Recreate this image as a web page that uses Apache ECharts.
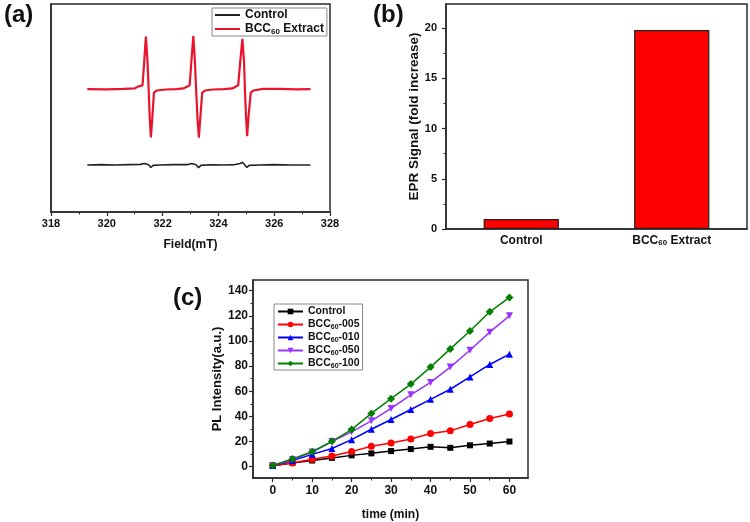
<!DOCTYPE html>
<html>
<head>
<meta charset="utf-8">
<script src="https://cdn.jsdelivr.net/npm/echarts@6/dist/echarts.min.js"></script>
<style>html,body{margin:0;padding:0;background:#fff}#c{width:750px;height:522px}</style>
</head>
<body>
<div id="c"></div>
<script>
// ---- Panel (a): EPR spectra [field (mT), signal (a.u.)] ----
const eprBcc = [
  [319.3,59.1],[320.0,59.0],[320.6,59.2],[321.0,59.4],[321.11,60.3],[321.28,60.9],[321.33,70],[321.40,84.3],[321.46,72],[321.50,59],[321.54,45],[321.58,35.9],[321.63,45],[321.69,57.4],[321.79,58.4],[322.1,58.9],
  [322.5,59.1],[322.75,59.4],[322.80,60.2],[322.97,60.9],[323.03,72],[323.10,84.6],[323.16,72],[323.20,59],[323.25,45],[323.30,35.7],[323.35,45],[323.42,57.4],[323.52,58.4],[323.8,58.9],
  [324.2,59.1],[324.5,59.4],[324.54,60.2],[324.71,60.9],[324.78,72],[324.86,83.2],[324.92,72],[324.95,59],[324.99,46],[325.03,36.5],[325.08,46],[325.16,57.4],[325.25,58.4],[325.6,59.2],[326.2,59.2],[326.8,59.0],[327.3,59.1]
];
const eprControl = [
  [319.3,22.6],[319.8,22.8],[320.3,22.6],[320.8,22.8],[321.2,22.9],[321.35,23.3],[321.42,24.0],[321.50,22.7],[321.58,21.4],[321.66,22.4],[321.9,22.6],
  [322.4,22.8],[322.9,22.8],[323.05,23.3],[323.12,24.1],[323.20,22.7],[323.29,21.3],[323.37,22.4],[323.7,22.7],
  [324.2,22.6],[324.6,22.8],[324.78,23.3],[324.86,23.9],[324.94,22.7],[325.02,21.4],[325.1,22.4],[325.5,22.6],[326.0,22.8],[326.6,22.6],[327.3,22.6]
];
const fieldTicks = [318, 320, 322, 324, 326, 328];

// ---- Panel (b): EPR fold increase ----
const barCategories = ['Control', 'BCC60 Extract'];
const barValues = [1.0, 19.8];
const foldTicks = [0, 5, 10, 15, 20];
const foldMinorTicks = [2.5, 7.5, 12.5, 17.5];

// ---- Panel (c): PL intensity vs time ----
const timeMin = [0, 5, 10, 15, 20, 25, 30, 35, 40, 45, 50, 55, 60];
const plControl = [0.8, 3.0, 4.9, 7.0, 9.0, 10.6, 12.4, 14.0, 15.8, 15.0, 17.0, 18.4, 20.0];
const pl005 = [1.0, 3.0, 6.0, 8.5, 12.0, 16.3, 18.9, 22.0, 26.4, 28.5, 33.6, 38.3, 41.9];
const pl010 = [1.0, 4.9, 9.8, 14.5, 21.5, 29.8, 37.5, 45.5, 53.6, 61.6, 71.4, 81.3, 89.5];
const pl050 = [1.0, 5.7, 11.6, 20.0, 27.7, 36.5, 46.3, 57.2, 67.0, 79.2, 92.6, 107.0, 120.0];
const pl100 = [1.0, 6.2, 11.9, 20.2, 29.5, 42.4, 54.1, 65.7, 79.2, 93.7, 107.9, 123.2, 134.6];
const plSeriesNames = ['Control', 'BCC60-005', 'BCC60-010', 'BCC60-050', 'BCC60-100'];
const timeTicks = [0, 10, 20, 30, 40, 50, 60];
const timeMinorTicks = [5, 15, 25, 35, 45, 55];
const plTicks = [0, 20, 40, 60, 80, 100, 120, 140];
const plMinorTicks = [10, 30, 50, 70, 90, 110, 130];

const FONT = '"Liberation Sans", Arial, sans-serif';
const AX = '#2b2b2b';
const TXT = '#111';
const sub = {fontSize: 8, fontWeight: 'bold', fontFamily: FONT, color: TXT, verticalAlign: 'bottom'};
const subFmt = n => n.replace('EPR ', '').replace('BCC60', 'BCC{s|60}');

function pairs(ys) { return timeMin.map((t, i) => [t, ys[i]]); }

const chart = echarts.init(document.getElementById('c'), null, {renderer: 'canvas'});
const axisLine = {show: true, onZero: false, lineStyle: {color: AX, width: 1.5}};
const lbl = (size, margin) => ({fontSize: size, fontWeight: 'bold', fontFamily: FONT, color: TXT, margin: margin});
const nameStyle = size => ({fontSize: size, fontWeight: 'bold', fontFamily: FONT, color: TXT});

chart.setOption({
  animation: false,
  backgroundColor: '#fff',
  title: [
    {text: '(a)', left: -1, top: -2, textStyle: {fontSize: 24, fontWeight: 'bold', fontFamily: FONT, color: TXT}},
    {text: '(b)', left: 368, top: -2, textStyle: {fontSize: 24, fontWeight: 'bold', fontFamily: FONT, color: TXT}},
    {text: '(c)', left: 168, top: 281, textStyle: {fontSize: 24, fontWeight: 'bold', fontFamily: FONT, color: TXT}}
  ],
  grid: [
    {left: 51, top: 4, width: 279, height: 208, show: true, borderColor: AX, borderWidth: 1.5},
    {left: 446, top: 4, width: 301, height: 225, show: true, borderColor: AX, borderWidth: 1.5},
    {left: 253, top: 280, width: 275, height: 203, show: true, borderColor: AX, borderWidth: 1.5}
  ],
  legend: [
    {
      data: ['EPR Control', 'EPR BCC60 Extract'], orient: 'vertical', left: 212, top: 8,
      padding: [0, 3, 0, 3], itemGap: 0, itemWidth: 25, itemHeight: 2, icon: 'rect',
      borderColor: '#888', borderWidth: 1, backgroundColor: '#fff',
      formatter: subFmt,
      textStyle: {fontSize: 12, fontWeight: 'bold', fontFamily: FONT, color: TXT, lineHeight: 14, rich: {s: sub}}
    },
    {
      data: plSeriesNames, orient: 'vertical', left: 274, top: 304,
      padding: [1, 3, 0, 3], itemGap: 0, itemWidth: 25, itemHeight: 7,
      borderColor: '#888', borderWidth: 1,
      formatter: subFmt,
      textStyle: {fontSize: 10.5, fontWeight: 'bold', fontFamily: FONT, color: TXT, lineHeight: 13, rich: {s: Object.assign({}, sub, {fontSize: 7})}}
    }
  ],
  xAxis: [
    {gridIndex: 0, type: 'value', min: 318, max: 328, interval: 2, axisLine,
      axisTick: {show: true, inside: false, length: 4, lineStyle: {color: AX, width: 1.2}},
      minorTick: {show: true, splitNumber: 2, length: 2.5, lineStyle: {color: AX, width: 1}},
      splitLine: {show: false}, axisLabel: Object.assign(lbl(11, 6), {customValues: fieldTicks}),
      name: 'Field(mT)', nameLocation: 'middle', nameGap: 27, nameTextStyle: nameStyle(12)},
    {gridIndex: 1, type: 'category', data: barCategories, axisLine,
      axisTick: {show: false}, splitLine: {show: false},
      axisLabel: Object.assign(lbl(12, 6), {formatter: subFmt, rich: {s: sub}})},
    {gridIndex: 2, type: 'value', position: 'bottom', min: -5, max: 64.7, axisLine,
      axisTick: {show: true, length: 4, customValues: timeTicks, lineStyle: {color: AX, width: 1.2}},
      splitLine: {show: false}, axisLabel: Object.assign(lbl(12, 7), {customValues: timeTicks}),
      name: 'time (min)', nameLocation: 'middle', nameGap: 31, nameTextStyle: nameStyle(12)},
    {gridIndex: 2, type: 'value', position: 'bottom', min: -5, max: 64.7, axisLine: {show: false, onZero: false},
      axisTick: {show: true, length: 2.5, customValues: timeMinorTicks, lineStyle: {color: AX, width: 1}},
      splitLine: {show: false}, axisLabel: {show: false}}
  ],
  yAxis: [
    {gridIndex: 0, type: 'value', min: 0, max: 100, axisLine, axisTick: {show: false}, axisLabel: {show: false}, splitLine: {show: false}},
    {gridIndex: 1, type: 'value', position: 'left', min: 0, max: 22.4, axisLine,
      axisTick: {show: true, length: 4, customValues: foldTicks, lineStyle: {color: AX, width: 1.2}},
      splitLine: {show: false}, axisLabel: Object.assign(lbl(11, 9), {customValues: foldTicks}),
      name: 'EPR Signal (fold increase)', nameLocation: 'middle', nameGap: 22, nameRotate: 90, nameTextStyle: nameStyle(13.5)},
    {gridIndex: 2, type: 'value', position: 'left', min: -9, max: 148.5, axisLine,
      axisTick: {show: true, length: 4, customValues: plTicks, lineStyle: {color: AX, width: 1.2}},
      splitLine: {show: false}, axisLabel: Object.assign(lbl(12, 5), {customValues: plTicks}),
      name: 'PL Intensity(a.u.)', nameLocation: 'middle', nameGap: 28, nameRotate: 90, nameTextStyle: nameStyle(13)},
    {gridIndex: 2, type: 'value', position: 'left', min: -9, max: 148.5, axisLine: {show: false, onZero: false},
      axisTick: {show: true, length: 2.5, customValues: plMinorTicks, lineStyle: {color: AX, width: 1}},
      splitLine: {show: false}, axisLabel: {show: false}},
    {gridIndex: 1, type: 'value', position: 'left', min: 0, max: 22.4, axisLine: {show: false, onZero: false},
      axisTick: {show: true, length: 2.5, customValues: foldMinorTicks, lineStyle: {color: AX, width: 1}},
      splitLine: {show: false}, axisLabel: {show: false}}
  ],
  series: [
    {name: 'EPR Control', type: 'line', xAxisIndex: 0, yAxisIndex: 0, data: eprControl, symbol: 'none',
      lineStyle: {color: '#222', width: 1.6}, itemStyle: {color: '#222'}},
    {name: 'EPR BCC60 Extract', type: 'line', xAxisIndex: 0, yAxisIndex: 0, data: eprBcc, symbol: 'none',
      lineStyle: {color: '#e8142e', width: 2.2}, itemStyle: {color: '#e8142e'}},
    {name: 'EPR fold', type: 'bar', xAxisIndex: 1, yAxisIndex: 1, data: barValues, barWidth: '50%',
      itemStyle: {color: '#ff0000', borderColor: '#222', borderWidth: 1.2}},
    {name: plSeriesNames[0], type: 'line', xAxisIndex: 2, yAxisIndex: 2, data: pairs(plControl), symbol: 'rect', symbolSize: 6,
      lineStyle: {color: '#000', width: 1.5}, itemStyle: {color: '#000'}},
    {name: plSeriesNames[1], type: 'line', xAxisIndex: 2, yAxisIndex: 2, data: pairs(pl005), symbol: 'circle', symbolSize: 7,
      lineStyle: {color: '#ff0000', width: 1.5}, itemStyle: {color: '#ff0000'}},
    {name: plSeriesNames[2], type: 'line', xAxisIndex: 2, yAxisIndex: 2, data: pairs(pl010), symbol: 'triangle', symbolSize: 7,
      lineStyle: {color: '#0000ff', width: 1.5}, itemStyle: {color: '#0000ff'}},
    {name: plSeriesNames[3], type: 'line', xAxisIndex: 2, yAxisIndex: 2, data: pairs(pl050), symbol: 'triangle', symbolRotate: 180, symbolSize: 7,
      lineStyle: {color: '#9933ff', width: 1.5}, itemStyle: {color: '#9933ff'}},
    {name: plSeriesNames[4], type: 'line', xAxisIndex: 2, yAxisIndex: 2, data: pairs(pl100), symbol: 'diamond', symbolSize: 8,
      lineStyle: {color: '#008000', width: 1.5}, itemStyle: {color: '#008000'}}
  ]
});
</script>
</body>
</html>
